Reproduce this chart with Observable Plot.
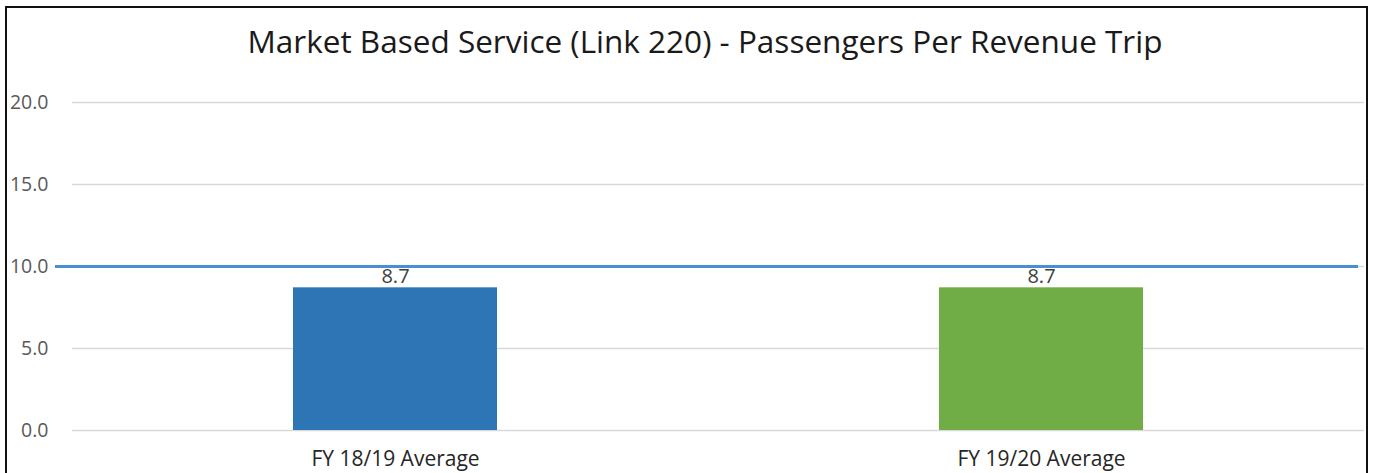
<!DOCTYPE html>
<html>
<head>
<meta charset="utf-8">
<script src="https://cdn.jsdelivr.net/npm/d3@7"></script>
<script src="https://cdn.jsdelivr.net/npm/@observablehq/plot@0.6"></script>
<style>
  html, body { margin: 0; padding: 0; background: #fff; }
  #wrap { position: relative; width: 1374px; height: 473px; overflow: hidden; background: #fff; }
  #frame { position: absolute; left: 5px; top: 6px; width: 1363px; height: 480px; border: 2px solid #111; box-sizing: border-box; }
  #title { position: absolute; left: 18px; top: 19px; width: 1374px; text-align: center; font-family: "Open Sans", sans-serif; font-size: 31.5px; line-height: 44px; color: #1a1a1a; white-space: nowrap; }
  #chart { position: absolute; left: 0; top: 80px; }
</style>
</head>
<body>
<div id="wrap">
  <div id="frame"></div>
  <div id="title">Market Based Service (Link 220) - Passengers Per Revenue Trip</div>
  <div id="chart"></div>
</div>
<script>
const categories = ["FY 18/19 Average", "FY 19/20 Average"];
const values = [8.7, 8.7];
const barColors = ["#2e75b6", "#70ad47"];
const yTicks = [0, 5, 10, 15, 20];
const targetValue = 10;

const data = categories.map((c, i) => ({category: c, value: values[i], color: barColors[i]}));

const chart = Plot.plot({
  width: 1374,
  height: 393,
  marginLeft: 72,
  marginRight: 10,
  marginTop: 22,
  marginBottom: 43,
  style: { fontFamily: "'Open Sans', sans-serif", background: "transparent" },
  x: { domain: categories, paddingInner: 0.684, paddingOuter: 0.342, label: null },
  y: { domain: [0, 20], label: null },
  marks: [
    Plot.ruleY(yTicks, { stroke: "#d9d9d9", strokeWidth: 1.5 }),
    Plot.barY(data, { x: "category", y: "value", fill: "color" }),
    Plot.ruleY([targetValue], { stroke: "#4a8fd4", strokeWidth: 3, insetLeft: -17, insetRight: 6 }),
    Plot.text(data, { x: "category", y: "value", text: d => d.value.toFixed(1), dy: -11, fontSize: 20, fill: "#404040" }),
    Plot.axisY({ ticks: yTicks, tickSize: 0, tickPadding: 24, tickFormat: d => d.toFixed(1), fontSize: 19.5, color: "#595959", label: null }),
    Plot.axisX({ tickSize: 0, tickPadding: 21, fontSize: 21, color: "#262626", label: null })
  ]
});
document.getElementById("chart").appendChild(chart);
</script>
</body>
</html>
